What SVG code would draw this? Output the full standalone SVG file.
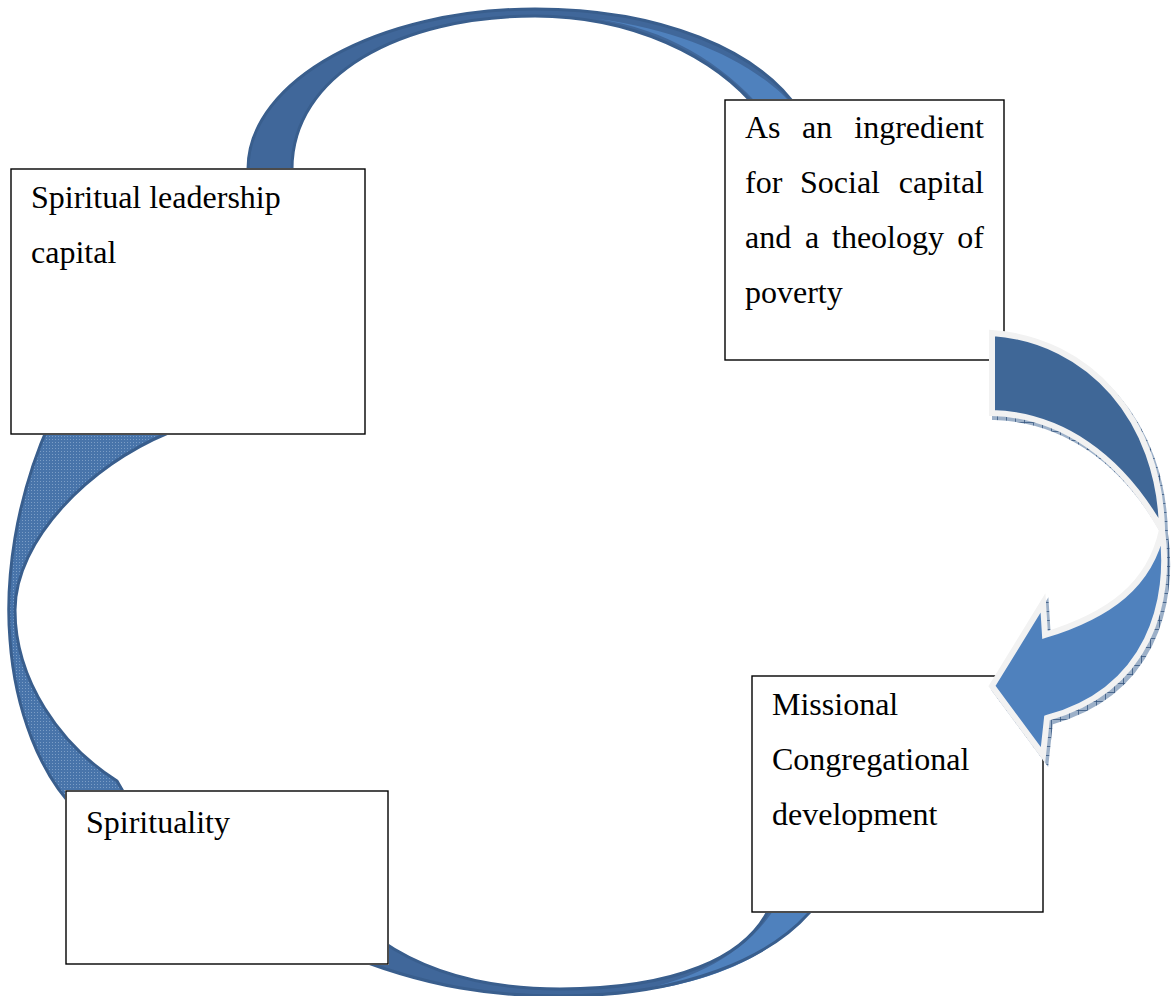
<svg xmlns="http://www.w3.org/2000/svg" width="1173" height="996" viewBox="0 0 1173 996">
<style>
.box{fill:#fff;stroke:#000;stroke-width:1.4}
.lbl{font-family:"Liberation Serif","Times New Roman",serif;font-size:32px;fill:#000}
.arc{fill:#40679a}
.arcline{fill:none;stroke:#395e8d;stroke-width:3;stroke-linejoin:round}
.light{fill:#4f81bd}
.dotted{fill:url(#dots)}
.brd{stroke:#f2f2f2;stroke-width:6;stroke-linejoin:miter;stroke-miterlimit:10}
.shadow{fill:url(#hatch);stroke:url(#hatch);stroke-width:6;stroke-linejoin:miter}
</style>
<defs>
<pattern id="dots" width="3" height="3" patternUnits="userSpaceOnUse">
<rect width="3" height="3" fill="#4874aa"/>
<rect x="1" y="1" width="1" height="1" fill="#7b9dc6"/>
</pattern>
<pattern id="hatch" width="9" height="9" patternUnits="userSpaceOnUse">
<rect width="9" height="9" fill="#9cb0c8"/>
<path d="M0 4.5H9M4.5 0V9" stroke="#35567f" stroke-width="0.8"/>
</pattern>
<clipPath id="outside">
<path clip-rule="evenodd" d="M0 0H1173V996H0Z M10 168H366V435H10Z M724 99H1005V361H724Z M751 675H1044V913H751Z M65 790H389V965H65Z"/>
</clipPath>
<path id="topArc" d="M248,182 L248,169 C248,80 380,9 535,9 C660,9 760,50 800,112 L760,112 C715,55 630,16 535,16 C400,16 292,75 292,169 L292,182 Z"/>
<path id="leftArc" d="M50,422 C15,500 5,580 10,640 C15,710 40,775 78,812 L128,800 L117,781 C60,745 15,680 15,610 C15,540 90,465 168,433 L168,420 Z"/>
<path id="bottomArc" d="M335,950 C430,990 500,996 560,996 C680,996 775,960 818,902 L772,902 C750,960 670,989 560,989 C490,989 430,975 380,940 Z"/>
<path id="arrowUpper" d="M992,333 C1090,340 1160,420 1162,530 C1120,455 1060,415 992,413 Z"/>
<path id="arrowLower" d="M1162,530 C1172,600 1150,690 1047,718 L1043,755 L992,686 L1043,603 L1045,635 C1110,615 1150,585 1162,530 Z"/>
</defs>
<rect width="1173" height="996" fill="#fff"/>
<g id="node-spiritual-leadership">
<rect class="box" x="11" y="169" width="354" height="265"/>
<text class="lbl" x="31" y="208">Spiritual leadership</text>
<text class="lbl" x="31" y="263">capital</text>
</g>
<g id="node-ingredient">
<rect class="box" x="725" y="100" width="279" height="260"/>
<text class="lbl" y="138"><tspan x="745">As</tspan><tspan x="802">an</tspan><tspan x="984" text-anchor="end">ingredient</tspan></text>
<text class="lbl" y="193"><tspan x="745">for</tspan><tspan x="800">Social</tspan><tspan x="984" text-anchor="end">capital</tspan></text>
<text class="lbl" y="248"><tspan x="745">and</tspan><tspan x="805">a</tspan><tspan x="832">theology</tspan><tspan x="984" text-anchor="end">of</tspan></text>
<text class="lbl" x="745" y="303">poverty</text>
</g>
<g id="node-missional">
<rect class="box" x="752" y="676" width="291" height="236"/>
<text class="lbl" x="772" y="715">Missional</text>
<text class="lbl" x="772" y="770">Congregational</text>
<text class="lbl" x="772" y="825">development</text>
</g>
<g id="node-spirituality">
<rect class="box" x="66" y="791" width="322" height="173"/>
<text class="lbl" x="86" y="833">Spirituality</text>
</g>
<g id="connectors">
<g clip-path="url(#outside)">
<use href="#topArc" class="arc"/>
<path class="light" d="M598,19 C690,31 762,67 797,110 L763,110 C722,62 665,29 598,19 Z"/>
<use href="#topArc" class="arcline"/>
<use href="#leftArc" class="dotted"/>
<use href="#leftArc" class="arcline"/>
<use href="#bottomArc" class="arc"/>
<path class="light" d="M625,992 C705,987 778,955 813,906 L776,906 C750,950 695,983 625,992 Z"/>
<use href="#bottomArc" class="arcline"/>
</g>
<g id="curved-arrow">
<g transform="translate(3,4)">
<use href="#arrowUpper" class="shadow"/>
<use href="#arrowLower" class="shadow"/>
</g>
<use href="#arrowUpper" class="brd" fill="#3f6797"/>
<use href="#arrowLower" class="brd" fill="#4f81bd"/>
</g>
</g>
</svg>
